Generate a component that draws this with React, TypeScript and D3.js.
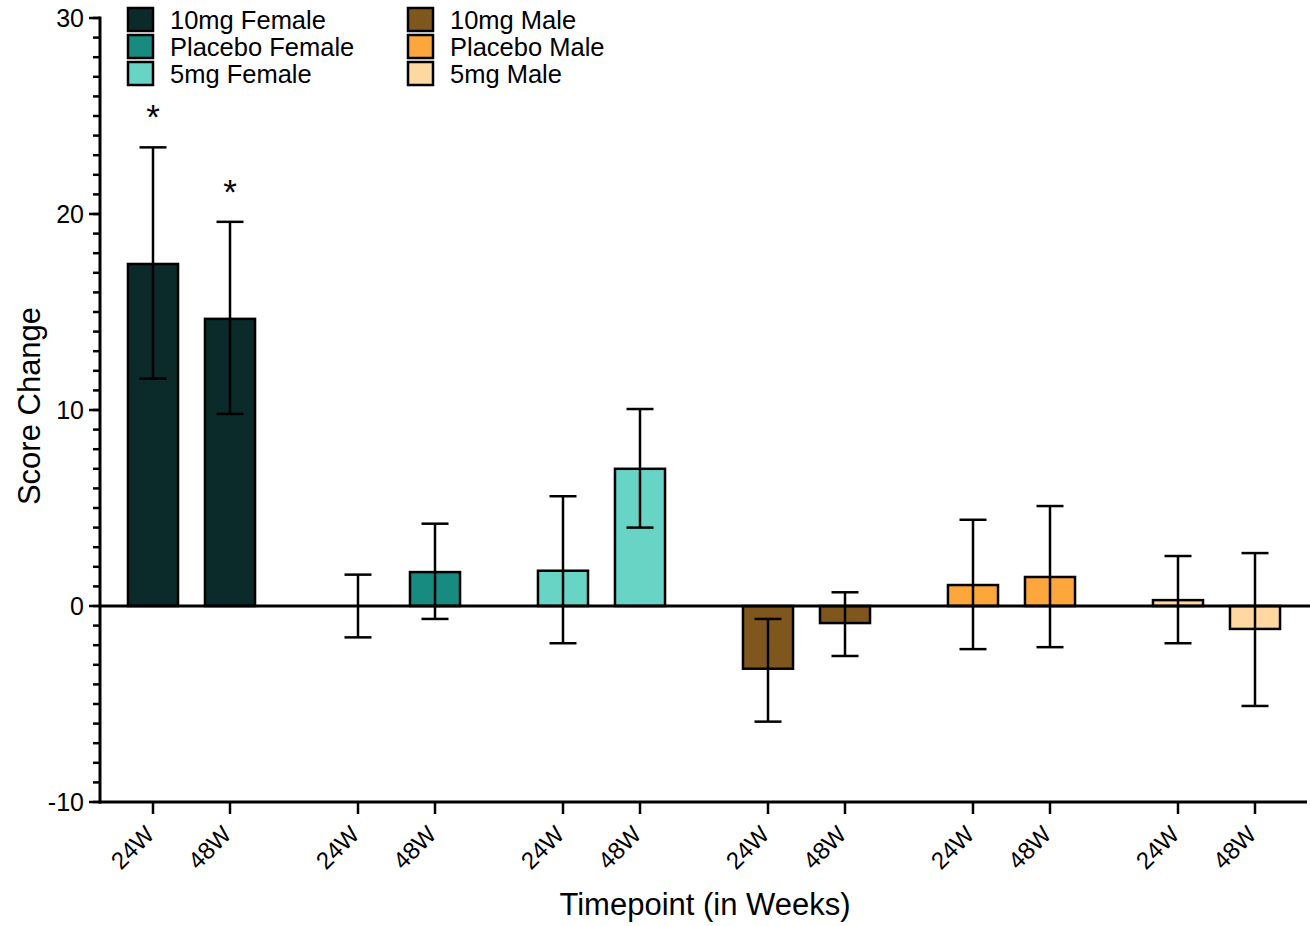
import React from "react";
import * as d3 from "d3";

const groups = ["10mg Female", "Placebo Female", "5mg Female", "10mg Male", "Placebo Male", "5mg Male"];
const colors = ["#0a2b29", "#178b80", "#68d4c6", "#80561f", "#fca63c", "#fed8a0"];
const timepoints = ["24W", "48W"];
// mean values per group: [24W, 48W]
const means = [
  [17.45, 14.65],
  [0, 1.73],
  [1.8, 7.0],
  [-3.2, -0.87],
  [1.07, 1.48],
  [0.3, -1.17],
];
const errHigh = [
  [23.4, 19.6],
  [1.6, 4.2],
  [5.6, 10.05],
  [-0.66, 0.7],
  [4.4, 5.1],
  [2.55, 2.7],
];
const errLow = [
  [11.6, 9.8],
  [-1.6, -0.66],
  [-1.9, 4.0],
  [-5.9, -2.55],
  [-2.2, -2.1],
  [-1.9, -5.1],
];
const significant = [
  [true, true],
  [false, false],
  [false, false],
  [false, false],
  [false, false],
  [false, false],
];
const yTicks = [-10, 0, 10, 20, 30];
const yMinorTicks = d3.range(-10, 31, 1);

const W = 1310;
const H = 926;
const font = "'Liberation Sans', Arial, Helvetica, sans-serif";

export default function App() {
  const axisX = 100;
  const y = d3.scaleLinear().domain([-10, 30]).range([802, 18]);
  const xGroup = d3.scaleBand<string>().domain(groups).range([89, 1319]);
  const xTp = d3
    .scaleBand<string>()
    .domain(timepoints)
    .range([0, xGroup.bandwidth()])
    .paddingInner(0.35)
    .paddingOuter(0.506);
  const bw = xTp.bandwidth();
  const capW = 27;

  const bars: any[] = [];
  groups.forEach((g, gi) => {
    timepoints.forEach((t, ti) => {
      const x0 = (xGroup(g) as number) + (xTp(t) as number);
      const cx = x0 + bw / 2;
      const v = means[gi][ti];
      bars.push({ g, gi, t, ti, x0, cx, v, hi: errHigh[gi][ti], lo: errLow[gi][ti], sig: significant[gi][ti] });
    });
  });

  const legendRows = [0, 1, 2];
  return (
    <svg
      width={W}
      height={H}
      style={{ position: "absolute", left: 0, top: 0, background: "#fff" }}
      fontFamily={font}
    >
      {/* bars */}
      {bars.map((b, i) => (
        <rect
          key={"bar" + i}
          x={b.x0}
          y={Math.min(y(b.v), y(0))}
          width={bw}
          height={Math.abs(y(b.v) - y(0))}
          fill={colors[b.gi]}
          stroke="#000"
          strokeWidth={2.5}
        />
      ))}
      {/* zero line */}
      <line x1={axisX} x2={W} y1={y(0)} y2={y(0)} stroke="#000" strokeWidth={3} />
      {/* error bars */}
      {bars.map((b, i) => (
        <g key={"err" + i} stroke="#000" strokeWidth={2.5}>
          <line x1={b.cx} x2={b.cx} y1={y(b.hi)} y2={y(b.lo)} />
          <line x1={b.cx - capW / 2} x2={b.cx + capW / 2} y1={y(b.hi)} y2={y(b.hi)} />
          <line x1={b.cx - capW / 2} x2={b.cx + capW / 2} y1={y(b.lo)} y2={y(b.lo)} />
        </g>
      ))}
      {/* significance */}
      {bars
        .filter((b) => b.sig)
        .map((b, i) => (
          <text key={"sig" + i} x={b.cx} y={y(b.hi) - 18} textAnchor="middle" fontSize={35} fill="#000">
            *
          </text>
        ))}
      {/* y axis */}
      <line x1={axisX} x2={axisX} y1={y(30) - 1.5} y2={y(-10) + 1.5} stroke="#000" strokeWidth={3} />
      {yMinorTicks.map((t) => (
        <line key={"mt" + t} x1={axisX - 7} x2={axisX} y1={y(t)} y2={y(t)} stroke="#000" strokeWidth={2.5} />
      ))}
      {yTicks.map((t) => (
        <g key={"yt" + t}>
          <line x1={axisX - 11} x2={axisX} y1={y(t)} y2={y(t)} stroke="#000" strokeWidth={2.5} />
          <text x={axisX - 16} y={y(t)} dy="0.35em" textAnchor="end" fontSize={25} fill="#000">
            {t}
          </text>
        </g>
      ))}
      {/* x axis */}
      <line x1={axisX - 1.5} x2={1307} y1={y(-10)} y2={y(-10)} stroke="#000" strokeWidth={3} />
      {bars.map((b, i) => (
        <g key={"xt" + i}>
          <line x1={b.cx} x2={b.cx} y1={y(-10)} y2={y(-10) + 12} stroke="#000" strokeWidth={2.5} />
          <text
            transform={`translate(${b.cx - 9},${y(-10) + 22}) rotate(-45)`}
            textAnchor="end"
            fontSize={24}
            dy="0.7em"
            fill="#000"
          >
            {b.t}
          </text>
        </g>
      ))}
      {/* axis titles */}
      <text x={705} y={915} textAnchor="middle" fontSize={31} fill="#000">
        Timepoint (in Weeks)
      </text>
      <text transform={`translate(40,406) rotate(-90)`} textAnchor="middle" fontSize={31} fill="#000">
        Score Change
      </text>
      {/* legend */}
      {groups.map((g, i) => {
        const col = Math.floor(i / 3);
        const row = legendRows[i % 3];
        const lx = 128 + col * 280;
        const ly = 8 + row * 27;
        return (
          <g key={"leg" + i}>
            <rect x={lx} y={ly} width={25} height={23} fill={colors[i]} stroke="#000" strokeWidth={2.5} />
            <text x={lx + 42} y={ly + 12} dy="0.35em" fontSize={25.5} fill="#000">
              {g}
            </text>
          </g>
        );
      })}
    </svg>
  );
}
